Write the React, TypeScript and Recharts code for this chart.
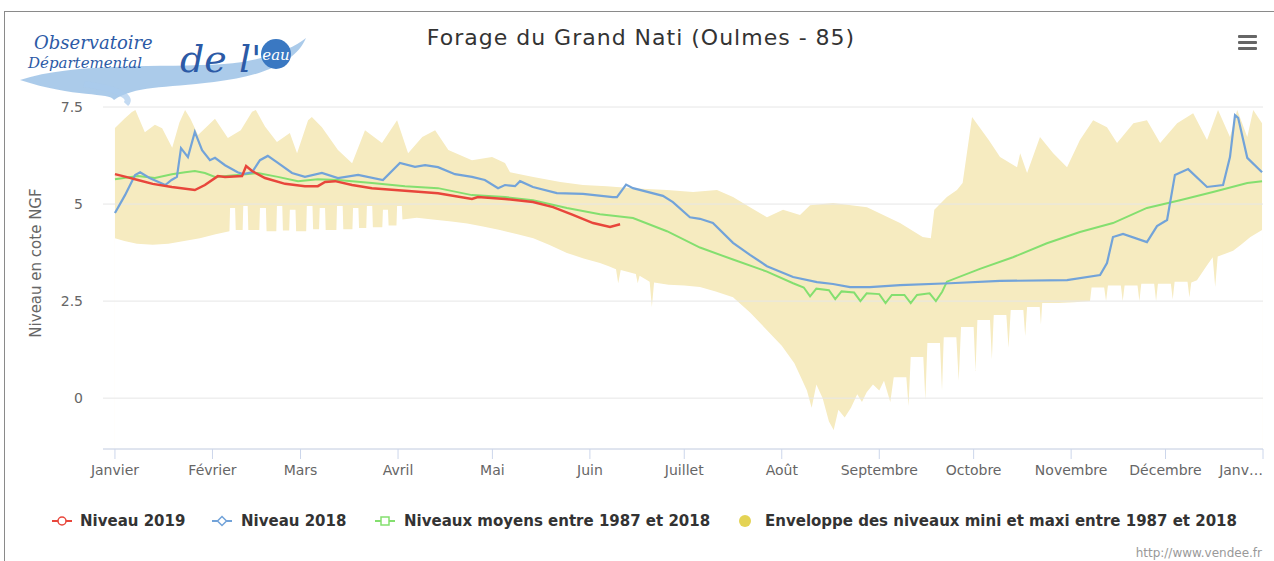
import React from "react";
import { ComposedChart, Line, Area, XAxis, YAxis, CartesianGrid } from "recharts";

// axes
const MONTH_LABELS = ["Janvier", "Février", "Mars", "Avril", "Mai", "Juin", "Juillet", "Août", "Septembre", "Octobre", "Novembre", "Décembre", "Janv…"];
const MONTH_TICKS = [0, 31, 59, 90, 120, 151, 181, 212, 243, 273, 304, 334, 365];
const Y_TICKS = [0, 2.5, 5, 7.5];

// Niveau 2019 (jour de l'année, cote NGF)
const DAYS_2019 = [0, 3.5, 7.3, 12, 18.1, 25.4, 28.6, 32.7, 35, 40.4, 41.7, 43.6, 47.7, 54.1, 60.4, 64.5, 66.8, 70, 75.4, 81.7, 92.2, 102.7, 113.5, 115.4, 124, 132.9, 139.3, 145.6, 152, 157.4, 160.6];
const NIVEAU_2019 = [5.77, 5.7, 5.62, 5.52, 5.44, 5.36, 5.49, 5.72, 5.7, 5.72, 5.98, 5.85, 5.67, 5.52, 5.46, 5.46, 5.57, 5.59, 5.49, 5.41, 5.34, 5.28, 5.13, 5.18, 5.13, 5.05, 4.92, 4.72, 4.51, 4.41, 4.48];

// Niveau 2018
const DAYS_2018 = [0, 3.2, 6.4, 8, 11, 16, 18, 19.7, 21, 23.2, 25.4, 27.7, 30.2, 31.8, 35, 39, 40.7, 43.6, 46.1, 48.6, 51.8, 56.3, 60.4, 65.8, 70.9, 77.3, 85.2, 90.6, 95.4, 98.6, 102.7, 108.1, 113.5, 117.6, 121.8, 124, 127.2, 128.8, 132.9, 140.5, 148.8, 158.3, 159.6, 162.5, 164.7, 174.2, 177.4, 182.8, 186, 190.1, 196.5, 201.9, 207.3, 215.6, 223.2, 228.3, 233.7, 240, 249.6, 265.5, 281.4, 302.7, 313.2, 315.4, 317.3, 320.5, 328.1, 331.3, 334.5, 337, 341.2, 347.2, 352.3, 354.5, 356.1, 357.1, 360, 364.7];
const NIVEAU_2018 = [4.77, 5.23, 5.75, 5.82, 5.67, 5.49, 5.62, 5.7, 6.44, 6.21, 6.86, 6.39, 6.13, 6.19, 6.0, 5.82, 5.77, 5.82, 6.13, 6.24, 6.06, 5.8, 5.7, 5.8, 5.67, 5.75, 5.62, 6.06, 5.96, 6.0, 5.95, 5.77, 5.7, 5.62, 5.41, 5.49, 5.46, 5.59, 5.44, 5.28, 5.26, 5.18, 5.18, 5.5, 5.41, 5.21, 5.05, 4.66, 4.62, 4.51, 4.0, 3.69, 3.4, 3.12, 2.99, 2.94, 2.86, 2.86, 2.91, 2.96, 3.02, 3.04, 3.17, 3.48, 4.15, 4.23, 4.02, 4.43, 4.59, 5.75, 5.9, 5.44, 5.49, 6.21, 7.29, 7.22, 6.19, 5.82];

// Niveaux moyens 1987-2018
const DAYS_MOYEN = [0, 7.3, 12.7, 18.1, 22.3, 25.4, 28.6, 31.8, 39, 45.4, 51.8, 58.2, 64.5, 70.9, 81.7, 92.2, 102.7, 113.5, 124, 132.9, 143.7, 154.2, 164.7, 175.5, 186, 196.5, 207.3, 215.6, 219, 221, 223, 227, 229, 231, 235, 237, 239, 243, 245, 247, 251, 253, 255, 259, 261, 263, 264.5, 275, 285.5, 296.3, 306.8, 317.3, 328.1, 338.6, 349.1, 360, 364.7];
const NIVEAU_MOYEN = [5.64, 5.72, 5.67, 5.77, 5.82, 5.85, 5.8, 5.7, 5.75, 5.8, 5.7, 5.59, 5.64, 5.62, 5.54, 5.46, 5.41, 5.23, 5.18, 5.1, 4.9, 4.74, 4.64, 4.3, 3.88, 3.57, 3.26, 2.96, 2.85, 2.62, 2.82, 2.78, 2.55, 2.75, 2.72, 2.5, 2.7, 2.68, 2.45, 2.66, 2.66, 2.45, 2.66, 2.7, 2.5, 2.74, 3.0, 3.33, 3.63, 3.99, 4.28, 4.51, 4.9, 5.1, 5.31, 5.54, 5.59];

// Enveloppe : maxi
const DAYS_MAXI = [0, 3, 5.4, 6.5, 9.5, 12.7, 15, 18.2, 20.5, 22.3, 24, 26.4, 28, 31.8, 35.9, 40, 43.6, 44.8, 47.7, 51.5, 55.6, 57.9, 61.4, 62.6, 65.8, 70.9, 75.4, 79.5, 84.9, 89.7, 93.2, 97.7, 101.8, 106, 113.5, 119.9, 124, 125.6, 133, 141.6, 148.8, 156.4, 164.7, 175.5, 183.8, 191.4, 196.5, 201.9, 207.3, 212.4, 217.8, 221, 228.3, 239.1, 249.6, 256.8, 259.4, 260.5, 264.5, 267.7, 269.5, 272.5, 277.8, 281.4, 286.8, 287.8, 290, 294.1, 298.3, 302.7, 306.8, 311, 315.4, 318.6, 323.8, 328.1, 332.3, 337.7, 342.8, 347.2, 350.7, 354.5, 356.8, 360, 361.9, 364.7];
const ENVELOPPE_MAXI = [6.96, 7.2, 7.37, 7.42, 6.85, 7.04, 6.95, 6.45, 7.1, 7.42, 7.2, 6.78, 6.9, 7.2, 6.7, 6.9, 7.38, 7.42, 7.0, 6.6, 6.83, 6.31, 7.16, 7.24, 6.98, 6.39, 6.05, 6.9, 6.57, 7.16, 6.31, 6.73, 6.9, 6.39, 6.13, 6.21, 6.06, 5.82, 5.7, 5.57, 5.49, 5.46, 5.41, 5.36, 5.31, 5.36, 5.18, 4.92, 4.66, 4.85, 4.72, 4.97, 5.03, 4.92, 4.51, 4.15, 4.12, 4.85, 5.18, 5.36, 5.54, 7.24, 6.65, 6.21, 5.95, 6.31, 5.8, 6.73, 6.31, 5.95, 6.65, 7.16, 6.98, 6.57, 7.08, 7.16, 6.57, 7.08, 7.34, 6.65, 7.42, 6.73, 7.42, 6.73, 7.42, 7.08];

// Enveloppe : mini
const DAYS_MINI = [0, 3, 7, 12, 17, 22, 27, 32, 36.4, 36.6, 38.2, 38.4, 40.6, 40.8, 42.2, 42.4, 45.9, 46.1, 48, 48.2, 51.3, 51.5, 53.2, 53.4, 55.4, 55.6, 57.4, 57.6, 60.8, 61, 62.8, 63, 64.9, 65.1, 66.8, 67, 70.4, 70.6, 72.4, 72.6, 75.5, 75.7, 77.4, 77.6, 79.9, 80.1, 81.8, 82, 85, 85.2, 86.8, 87, 89.5, 89.7, 91.2, 91.4, 96, 101, 107, 112, 117, 122.4, 128, 133, 138, 143.7, 149, 154.2, 157, 159.3, 160, 160.8, 164.7, 165.6, 166.2, 166.8, 170, 170.7, 171.4, 176, 181, 186, 191, 196.5, 202, 207.3, 212, 216, 218, 220, 221.5, 223, 225, 227, 228.5, 230, 232, 234, 236, 237.5, 239, 241, 243, 244.5, 246.5, 247.6, 251.6, 252.3, 253, 257, 257.65, 258.3, 262.3, 262.95, 263.5, 267.5, 268.25, 269, 273, 273.6, 274.2, 278.2, 278.8, 279.4, 283.4, 284.1, 284.8, 288.8, 289.4, 290, 294, 294.4, 294.8, 298.8, 300, 305, 310, 310.5, 314.5, 315.1, 315.7, 319.8, 320.4, 321, 325.1, 325.7, 326.3, 330.4, 331, 331.6, 335.7, 336.3, 336.9, 341, 341.6, 342.2, 344, 347, 349, 349.8, 350.6, 353, 355.5, 358, 361, 364.7];
const ENVELOPPE_MINI = [4.12, 4.05, 3.98, 3.95, 3.98, 4.05, 4.12, 4.22, 4.3, 4.9, 4.9, 4.33, 4.33, 4.95, 4.95, 4.33, 4.33, 4.9, 4.9, 4.3, 4.3, 4.95, 4.95, 4.32, 4.32, 4.85, 4.85, 4.3, 4.3, 4.95, 4.95, 4.35, 4.35, 4.9, 4.9, 4.33, 4.33, 4.95, 4.95, 4.35, 4.35, 4.9, 4.9, 4.38, 4.38, 4.95, 4.95, 4.4, 4.4, 4.85, 4.85, 4.45, 4.45, 4.95, 4.95, 4.6, 4.65, 4.6, 4.55, 4.5, 4.42, 4.33, 4.22, 4.12, 3.95, 3.74, 3.6, 3.48, 3.4, 3.32, 2.96, 3.3, 3.22, 3.2, 2.96, 3.15, 3.0, 2.35, 2.98, 2.92, 2.9, 2.86, 2.75, 2.6, 2.2, 1.75, 1.35, 0.9, 0.55, 0.2, -0.25, 0.35, 0.0, -0.6, -0.82, -0.3, -0.5, -0.25, 0.1, -0.1, 0.15, 0.35, 0.2, 0.45, -0.1, 0.54, 0.54, -0.2, 1.06, 1.06, -0.05, 1.42, 1.42, 0.2, 1.57, 1.57, 0.45, 1.83, 1.83, 0.7, 2.01, 2.01, 1.0, 2.14, 2.14, 1.3, 2.27, 2.27, 1.6, 2.35, 2.35, 1.9, 2.45, 2.45, 2.45, 2.47, 2.5, 2.85, 2.85, 2.5, 2.9, 2.9, 2.5, 2.9, 2.9, 2.5, 2.95, 2.95, 2.5, 2.95, 2.95, 2.55, 3.0, 3.0, 2.6, 2.98, 3.04, 3.4, 3.63, 2.86, 3.65, 3.72, 3.8, 3.95, 4.15, 4.33];

const RED = "#e8463b";
const BLUE = "#72a3d9";
const GREEN = "#84df6f";
const BAND = "#f6ebc0";
const FONT = "DejaVu Sans";

const toSeries = (days: number[], vals: number[]) => days.map((d, i) => ({ day: d, v: vals[i] }));

const MonthTick = (props: any) => {
  const { x, y, payload } = props;
  const idx = MONTH_TICKS.indexOf(payload.value);
  const last = idx === MONTH_TICKS.length - 1;
  return (
    <text x={x} y={y} dy="0.71em" textAnchor={last ? "end" : "middle"} fill="#666" fontSize={14} fontFamily={FONT}>
      {MONTH_LABELS[idx]}
    </text>
  );
};

function LegendSymbol({ kind, color }: { kind: string; color: string }) {
  return (
    <svg width={20} height={14} style={{ position: "absolute", left: -10, top: -7 }}>
      <line x1={0} y1={7} x2={20} y2={7} stroke={color} strokeWidth={2} />
      {kind === "circle" && <circle cx={10} cy={7} r={4} fill="#fff" stroke={color} strokeWidth={1.5} />}
      {kind === "diamond" && <path d="M10 2.5 L14.5 7 L10 11.5 L5.5 7 Z" fill="#fff" stroke={color} strokeWidth={1.5} />}
      {kind === "square" && <rect x={6} y={3} width={8} height={8} fill="#fff" stroke={color} strokeWidth={1.5} />}
    </svg>
  );
}

const LEGEND = [
  { label: "Niveau 2019", kind: "circle", color: RED, mx: 62, tx: 80 },
  { label: "Niveau 2018", kind: "diamond", color: BLUE, mx: 222, tx: 241 },
  { label: "Niveaux moyens entre 1987 et 2018", kind: "square", color: GREEN, mx: 385, tx: 404 },
];

export default function App() {
  return (
    <div style={{ position: "absolute", left: 0, top: 0, width: 1274, height: 561, background: "#fff", overflow: "hidden", fontFamily: FONT }}>
      <div style={{ position: "absolute", left: 4, top: 11, width: 1290, height: 600, borderLeft: "1px solid #8a8a8a", borderTop: "1px solid #8a8a8a" }} />

      {/* logo */}
      <svg width={300} height={100} style={{ position: "absolute", left: 14, top: 18 }}>
        <path d="M6 62 C 60 44, 150 50, 210 46 C 250 43, 280 30, 292 20 C 282 44, 250 58, 200 64 C 150 70, 120 68, 100 82 C 96 74, 60 80, 6 62 Z" fill="#8fb9e3" opacity={0.75} />
        <path d="M70 66 C 100 70, 120 78, 112 86" stroke="#a9cbec" strokeWidth={6} fill="none" opacity={0.7} />
        <text x={20} y={31} fontFamily="DejaVu Serif" fontStyle="italic" fontSize={18} fill="#2c5aa6">Observatoire</text>
        <text x={14} y={50} fontFamily="DejaVu Serif" fontStyle="italic" fontSize={15} fill="#2c5aa6">Départemental</text>
        <text x={166} y={54} fontFamily="DejaVu Serif" fontStyle="italic" fontSize={38} fill="#2c5aa6">de l'</text>
        <circle cx={262} cy={36} r={15} fill="#3a78c2" />
        <text x={262} y={42} textAnchor="middle" fontFamily="DejaVu Serif" fontStyle="italic" fontSize={15} fill="#fff">eau</text>
      </svg>

      <div style={{ position: "absolute", left: 241, width: 800, top: 25, textAlign: "center", fontSize: 22, letterSpacing: 1, lineHeight: "26px", color: "#333" }}>
        Forage du Grand Nati (Oulmes - 85)
      </div>

      {/* menu */}
      <div style={{ position: "absolute", left: 1238, top: 35 }}>
        {[0, 6, 12].map((t) => (
          <div key={t} style={{ position: "absolute", left: 0, top: t, width: 19, height: 3, background: "#666", borderRadius: 1 }} />
        ))}
      </div>

      <div style={{ position: "absolute", left: 36, top: 263, transform: "translate(-50%, -50%) rotate(-90deg)", whiteSpace: "nowrap", fontSize: 15, color: "#666" }}>
        Niveau en cote NGF
      </div>

      <div style={{ position: "absolute", left: 0, top: 0 }}>
        <ComposedChart width={1274} height={561} margin={{ top: 107, right: 11, bottom: 82, left: 43 }}>
          <Area data={toSeries(DAYS_MAXI, ENVELOPPE_MAXI)} dataKey="v" type="linear" stroke="none" fill={BAND} fillOpacity={1} baseValue={-1.31} isAnimationActive={false} dot={false} activeDot={false} />
          <Area data={toSeries(DAYS_MINI, ENVELOPPE_MINI)} dataKey="v" type="linear" stroke="none" fill="#ffffff" fillOpacity={1} baseValue={-1.31} isAnimationActive={false} dot={false} activeDot={false} />
          <CartesianGrid vertical={false} stroke="#e6e6e6" zIndex={150} />
          <XAxis
            type="number"
            dataKey="day"
            domain={[-3.8, 365]}
            allowDataOverflow
            ticks={MONTH_TICKS}
            interval={0}
            tick={MonthTick}
            tickSize={10}
            tickMargin={6}
            stroke="#ccd6eb"
            tickLine={{ stroke: "#ccd6eb" }}
            axisLine={{ stroke: "#ccd6eb" }}
          />
          <YAxis
            type="number"
            domain={[-1.31, 7.5]}
            allowDataOverflow
            ticks={Y_TICKS}
            width={60}
            axisLine={false}
            tickLine={false}
            tickMargin={14}
            tick={{ fill: "#666", fontSize: 14, fontFamily: FONT }}
          />
          <Line data={toSeries(DAYS_MOYEN, NIVEAU_MOYEN)} dataKey="v" type="linear" stroke={GREEN} strokeWidth={2} dot={false} activeDot={false} isAnimationActive={false} />
          <Line data={toSeries(DAYS_2018, NIVEAU_2018)} dataKey="v" type="linear" stroke={BLUE} strokeWidth={2.2} dot={false} activeDot={false} isAnimationActive={false} />
          <Line data={toSeries(DAYS_2019, NIVEAU_2019)} dataKey="v" type="linear" stroke={RED} strokeWidth={2.5} dot={false} activeDot={false} isAnimationActive={false} />
        </ComposedChart>
      </div>

      {/* legend */}
      {LEGEND.map((l) => (
        <React.Fragment key={l.label}>
          <div style={{ position: "absolute", left: l.mx, top: 521 }}>
            <LegendSymbol kind={l.kind} color={l.color} />
          </div>
          <div style={{ position: "absolute", left: l.tx, top: 511, fontSize: 15, fontWeight: "bold", color: "#333", whiteSpace: "nowrap", lineHeight: "20px" }}>{l.label}</div>
        </React.Fragment>
      ))}
      <div style={{ position: "absolute", left: 739, top: 515, width: 12, height: 12, borderRadius: 6, background: "#e4d354" }} />
      <div style={{ position: "absolute", left: 765, top: 511, fontSize: 15, fontWeight: "bold", color: "#333", whiteSpace: "nowrap", lineHeight: "20px" }}>
        Enveloppe des niveaux mini et maxi entre 1987 et 2018
      </div>

      <div style={{ position: "absolute", right: 12, top: 546, fontSize: 12, color: "#999" }}>http://www.vendee.fr</div>
    </div>
  );
}
